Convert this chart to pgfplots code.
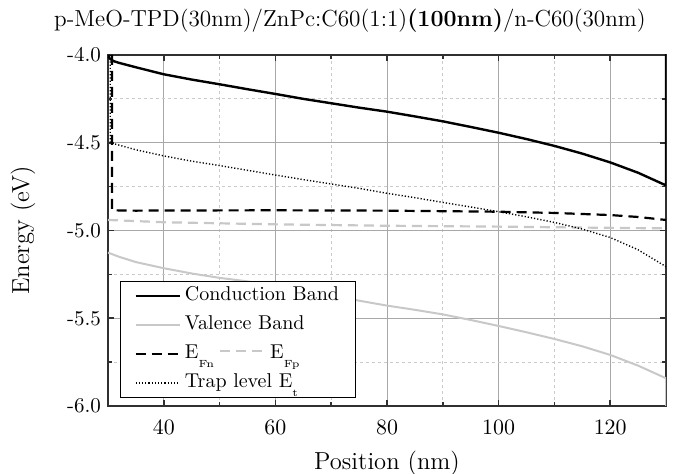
\documentclass[border=0pt]{standalone}
\usepackage{pgfplots}
\pgfplotsset{compat=1.18}
\definecolor{lg}{HTML}{C8C8C8}
\definecolor{gridmaj}{HTML}{A8A8A8}
\definecolor{gridmin}{HTML}{CACACA}
\definecolor{axc}{HTML}{303030}
\newcommand{\sub}[1]{\raisebox{-4.6pt}{\fontsize{5.2}{6}\selectfont #1}}
\begin{document}
\begin{tikzpicture}
\useasboundingbox (-54pt,-34pt) rectangle (283pt,203pt);
\begin{axis}[
  at={(0,0)}, anchor=south west,
  scale only axis, width=279pt, height=175.5pt,
  xmin=30, xmax=130, ymin=-6, ymax=-4,
  xtick={40,60,80,100,120},
  ytick={-6,-5.5,-5,-4.5,-4},
  yticklabels={-6.0,-5.5,-5.0,-4.5,-4.0},
  minor x tick num=1, minor y tick num=1,
  grid=both,
  major grid style={gridmaj, line width=0.5pt},
  minor grid style={gridmin, dash pattern=on 1.5pt off 1.5pt, line width=0.5pt},
  tick align=inside,
  major tick length=3pt, minor tick length=2pt,
  tick style={axc, line width=0.8pt},
  axis line style={axc, line width=1pt},
  tick label style={font=\fontsize{10.5}{12}\selectfont},
  xticklabel style={yshift=-3.5pt},
  xlabel={Position (nm)}, ylabel={Energy (eV)},
  label style={font=\fontsize{12.3}{14}\selectfont},
  xlabel style={at={(axis description cs:0.5,0)}, anchor=base, yshift=-32pt},
  ylabel style={at={([xshift=-42.5pt]axis description cs:0,0.5)}, anchor=center},
  title={p-MeO-TPD(30nm)/ZnPc:C60(1:1)\textbf{(100nm)}/n-C60(30nm)},
  title style={font=\fontsize{11.6}{13}\selectfont, at={(axis description cs:0.5,1)}, anchor=base, yshift=8pt, xshift=-18.5pt},
  legend cell align=left,
  legend image code/.code={\draw[#1] (0pt,0pt) -- (22pt,0pt);},
  legend style={at={(axis description cs:0,0)}, anchor=south west, xshift=6pt, yshift=4pt,
    draw=black, line width=0.5pt, fill=white, font=\fontsize{10}{12}\selectfont,
    inner xsep=7pt, inner ysep=1.5pt, row sep=3pt, column sep=1pt,
    nodes={inner sep=1pt, text height=7pt, text depth=2.5pt}},
]
\addplot[black, line width=1.2pt] coordinates {
(30,-4.00) (30.3,-4.02) (31,-4.035) (32,-4.045) (35,-4.07) (40,-4.11) (45,-4.14)
(50,-4.167) (55,-4.195) (60,-4.222) (65,-4.25) (70,-4.275) (75,-4.30) (80,-4.323)
(85,-4.35) (90,-4.378) (95,-4.41) (100,-4.443) (105,-4.479) (110,-4.518) (115,-4.562)
(120,-4.612) (125,-4.671) (130,-4.743) (130,-3.9)};
\addlegendentry{Conduction Band}
\addplot[lg, line width=1pt] coordinates {
(30,-5.126) (32,-5.15) (35,-5.18) (40,-5.215) (45,-5.245) (50,-5.27) (55,-5.29)
(60,-5.315) (65,-5.34) (70,-5.37) (75,-5.40) (80,-5.428) (85,-5.452) (90,-5.478)
(95,-5.51) (100,-5.544) (105,-5.58) (110,-5.618) (115,-5.66) (120,-5.709)
(125,-5.77) (130,-5.842) (130,-6.1)};
\addlegendentry{Valence Band}
\addplot[black, line width=1.1pt, dash pattern=on 5pt off 3pt] coordinates {
(30.7,-4.0) (30.7,-4.885) (35,-4.887) (40,-4.886) (60,-4.885) (80,-4.887)
(100,-4.893) (110,-4.9) (120,-4.912) (125,-4.923) (130,-4.94)};
\addlegendentry{E\sub{Fn}\hspace{3pt}\textcolor{lg}{\rule[0.33em]{5pt}{1pt}\hspace{3pt}\rule[0.33em]{5pt}{1pt}\hspace{3pt}\rule[0.33em]{5pt}{1pt}}\hspace{4pt}E\sub{Fp}}
\addplot[lg, line width=1.1pt, dash pattern=on 5pt off 3pt, forget plot] coordinates {
(30,-4.94) (40,-4.953) (60,-4.965) (80,-4.973) (100,-4.978) (120,-4.985) (130,-4.988)};
\addplot[black, line width=0.7pt, dash pattern=on 0.6pt off 1pt] coordinates {
(30.4,-4.0) (30.4,-4.5) (31,-4.505) (35,-4.54) (40,-4.575) (45,-4.605) (50,-4.63)
(55,-4.657) (60,-4.684) (65,-4.71) (70,-4.735) (75,-4.76) (80,-4.788) (85,-4.813)
(90,-4.84) (95,-4.866) (100,-4.893) (105,-4.922) (110,-4.954) (115,-4.992)
(120,-5.04) (125,-5.11) (130,-5.206)};
\addlegendentry{Trap level E\sub{t}}
\end{axis}
\end{tikzpicture}
\end{document}
